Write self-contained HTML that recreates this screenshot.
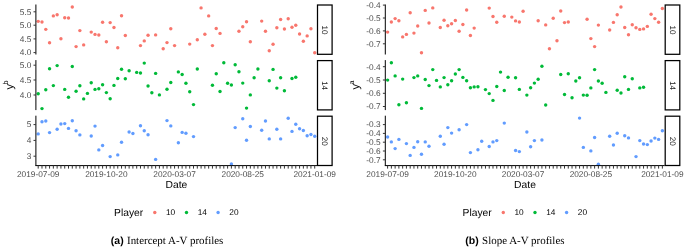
<!DOCTYPE html>
<html><head><meta charset="utf-8"><style>
html,body{margin:0;padding:0;background:#fff;}
body{width:685px;height:247px;overflow:hidden;}
svg{display:block;will-change:transform;}
text{font-family:"Liberation Sans",sans-serif;text-rendering:geometricPrecision;}
.at{font-size:8.3px;fill:#4D4D4D;}
.st{font-size:8px;fill:#1A1A1A;}
.tt{font-size:10.3px;fill:#000;}
.lt{font-size:8.3px;fill:#000;}
.sup{font-size:7.2px;}
.yt{font-size:11px;fill:#000;}
.cap{font-family:"Liberation Serif",serif;font-size:10.95px;fill:#000;}
.capb{font-family:"Liberation Sans",sans-serif;font-weight:bold;font-size:10.5px;fill:#000;}
</style></head><body>
<svg width="685" height="247" viewBox="0 0 685 247">
<circle cx="38.20" cy="21.35" r="1.7" fill="#F8766D"/>
<circle cx="41.99" cy="22.00" r="1.7" fill="#F8766D"/>
<circle cx="45.78" cy="29.35" r="1.7" fill="#F8766D"/>
<circle cx="49.56" cy="42.80" r="1.7" fill="#F8766D"/>
<circle cx="53.35" cy="15.90" r="1.7" fill="#F8766D"/>
<circle cx="57.14" cy="14.80" r="1.7" fill="#F8766D"/>
<circle cx="60.93" cy="38.80" r="1.7" fill="#F8766D"/>
<circle cx="64.72" cy="17.80" r="1.7" fill="#F8766D"/>
<circle cx="68.50" cy="18.00" r="1.7" fill="#F8766D"/>
<circle cx="72.29" cy="7.00" r="1.7" fill="#F8766D"/>
<circle cx="76.08" cy="46.60" r="1.7" fill="#F8766D"/>
<circle cx="79.87" cy="30.60" r="1.7" fill="#F8766D"/>
<circle cx="83.66" cy="44.90" r="1.7" fill="#F8766D"/>
<circle cx="91.23" cy="32.10" r="1.7" fill="#F8766D"/>
<circle cx="95.02" cy="34.40" r="1.7" fill="#F8766D"/>
<circle cx="98.81" cy="35.00" r="1.7" fill="#F8766D"/>
<circle cx="102.60" cy="22.20" r="1.7" fill="#F8766D"/>
<circle cx="106.38" cy="41.80" r="1.7" fill="#F8766D"/>
<circle cx="110.17" cy="22.60" r="1.7" fill="#F8766D"/>
<circle cx="113.96" cy="27.50" r="1.7" fill="#F8766D"/>
<circle cx="117.75" cy="47.70" r="1.7" fill="#F8766D"/>
<circle cx="121.54" cy="15.70" r="1.7" fill="#F8766D"/>
<circle cx="125.32" cy="35.50" r="1.7" fill="#F8766D"/>
<circle cx="140.48" cy="45.60" r="1.7" fill="#F8766D"/>
<circle cx="144.26" cy="40.90" r="1.7" fill="#F8766D"/>
<circle cx="148.05" cy="35.30" r="1.7" fill="#F8766D"/>
<circle cx="155.63" cy="34.90" r="1.7" fill="#F8766D"/>
<circle cx="163.20" cy="48.70" r="1.7" fill="#F8766D"/>
<circle cx="166.99" cy="42.60" r="1.7" fill="#F8766D"/>
<circle cx="170.78" cy="28.70" r="1.7" fill="#F8766D"/>
<circle cx="174.57" cy="45.60" r="1.7" fill="#F8766D"/>
<circle cx="189.72" cy="44.10" r="1.7" fill="#F8766D"/>
<circle cx="197.30" cy="39.70" r="1.7" fill="#F8766D"/>
<circle cx="201.08" cy="7.90" r="1.7" fill="#F8766D"/>
<circle cx="204.87" cy="34.20" r="1.7" fill="#F8766D"/>
<circle cx="208.66" cy="15.90" r="1.7" fill="#F8766D"/>
<circle cx="212.45" cy="45.60" r="1.7" fill="#F8766D"/>
<circle cx="216.24" cy="28.50" r="1.7" fill="#F8766D"/>
<circle cx="220.02" cy="33.40" r="1.7" fill="#F8766D"/>
<circle cx="238.96" cy="31.20" r="1.7" fill="#F8766D"/>
<circle cx="242.75" cy="26.80" r="1.7" fill="#F8766D"/>
<circle cx="246.54" cy="21.80" r="1.7" fill="#F8766D"/>
<circle cx="250.33" cy="41.80" r="1.7" fill="#F8766D"/>
<circle cx="261.69" cy="21.10" r="1.7" fill="#F8766D"/>
<circle cx="265.48" cy="31.20" r="1.7" fill="#F8766D"/>
<circle cx="269.27" cy="50.80" r="1.7" fill="#F8766D"/>
<circle cx="273.06" cy="44.30" r="1.7" fill="#F8766D"/>
<circle cx="276.84" cy="27.70" r="1.7" fill="#F8766D"/>
<circle cx="280.63" cy="19.50" r="1.7" fill="#F8766D"/>
<circle cx="284.42" cy="29.00" r="1.7" fill="#F8766D"/>
<circle cx="288.21" cy="18.80" r="1.7" fill="#F8766D"/>
<circle cx="292.00" cy="27.30" r="1.7" fill="#F8766D"/>
<circle cx="295.78" cy="25.20" r="1.7" fill="#F8766D"/>
<circle cx="299.57" cy="34.00" r="1.7" fill="#F8766D"/>
<circle cx="303.36" cy="41.30" r="1.7" fill="#F8766D"/>
<circle cx="307.15" cy="35.90" r="1.7" fill="#F8766D"/>
<circle cx="310.94" cy="28.70" r="1.7" fill="#F8766D"/>
<circle cx="314.72" cy="52.70" r="1.7" fill="#F8766D"/>
<circle cx="38.20" cy="93.80" r="1.7" fill="#00BA38"/>
<circle cx="41.99" cy="108.60" r="1.7" fill="#00BA38"/>
<circle cx="45.78" cy="89.80" r="1.7" fill="#00BA38"/>
<circle cx="49.56" cy="68.80" r="1.7" fill="#00BA38"/>
<circle cx="53.35" cy="85.60" r="1.7" fill="#00BA38"/>
<circle cx="57.14" cy="65.60" r="1.7" fill="#00BA38"/>
<circle cx="64.72" cy="89.40" r="1.7" fill="#00BA38"/>
<circle cx="68.50" cy="97.20" r="1.7" fill="#00BA38"/>
<circle cx="72.29" cy="66.50" r="1.7" fill="#00BA38"/>
<circle cx="76.08" cy="91.30" r="1.7" fill="#00BA38"/>
<circle cx="79.87" cy="85.80" r="1.7" fill="#00BA38"/>
<circle cx="83.66" cy="98.90" r="1.7" fill="#00BA38"/>
<circle cx="87.44" cy="93.40" r="1.7" fill="#00BA38"/>
<circle cx="91.23" cy="82.70" r="1.7" fill="#00BA38"/>
<circle cx="95.02" cy="89.40" r="1.7" fill="#00BA38"/>
<circle cx="98.81" cy="88.80" r="1.7" fill="#00BA38"/>
<circle cx="102.60" cy="84.80" r="1.7" fill="#00BA38"/>
<circle cx="106.38" cy="92.60" r="1.7" fill="#00BA38"/>
<circle cx="110.17" cy="98.70" r="1.7" fill="#00BA38"/>
<circle cx="113.96" cy="85.40" r="1.7" fill="#00BA38"/>
<circle cx="117.75" cy="78.50" r="1.7" fill="#00BA38"/>
<circle cx="121.54" cy="69.20" r="1.7" fill="#00BA38"/>
<circle cx="125.32" cy="78.70" r="1.7" fill="#00BA38"/>
<circle cx="129.11" cy="70.70" r="1.7" fill="#00BA38"/>
<circle cx="136.69" cy="72.40" r="1.7" fill="#00BA38"/>
<circle cx="140.48" cy="73.00" r="1.7" fill="#00BA38"/>
<circle cx="144.26" cy="63.10" r="1.7" fill="#00BA38"/>
<circle cx="148.05" cy="86.00" r="1.7" fill="#00BA38"/>
<circle cx="151.84" cy="92.80" r="1.7" fill="#00BA38"/>
<circle cx="155.63" cy="73.40" r="1.7" fill="#00BA38"/>
<circle cx="159.42" cy="94.90" r="1.7" fill="#00BA38"/>
<circle cx="166.99" cy="89.20" r="1.7" fill="#00BA38"/>
<circle cx="170.78" cy="82.50" r="1.7" fill="#00BA38"/>
<circle cx="178.36" cy="71.90" r="1.7" fill="#00BA38"/>
<circle cx="182.14" cy="74.50" r="1.7" fill="#00BA38"/>
<circle cx="185.93" cy="83.30" r="1.7" fill="#00BA38"/>
<circle cx="189.72" cy="91.70" r="1.7" fill="#00BA38"/>
<circle cx="193.51" cy="104.60" r="1.7" fill="#00BA38"/>
<circle cx="197.30" cy="69.00" r="1.7" fill="#00BA38"/>
<circle cx="212.45" cy="85.20" r="1.7" fill="#00BA38"/>
<circle cx="216.24" cy="73.80" r="1.7" fill="#00BA38"/>
<circle cx="220.02" cy="91.50" r="1.7" fill="#00BA38"/>
<circle cx="223.81" cy="62.70" r="1.7" fill="#00BA38"/>
<circle cx="227.60" cy="83.30" r="1.7" fill="#00BA38"/>
<circle cx="231.39" cy="85.00" r="1.7" fill="#00BA38"/>
<circle cx="235.18" cy="64.80" r="1.7" fill="#00BA38"/>
<circle cx="238.96" cy="71.70" r="1.7" fill="#00BA38"/>
<circle cx="242.75" cy="83.10" r="1.7" fill="#00BA38"/>
<circle cx="246.54" cy="108.10" r="1.7" fill="#00BA38"/>
<circle cx="250.33" cy="94.90" r="1.7" fill="#00BA38"/>
<circle cx="254.12" cy="77.80" r="1.7" fill="#00BA38"/>
<circle cx="257.90" cy="69.00" r="1.7" fill="#00BA38"/>
<circle cx="269.27" cy="80.80" r="1.7" fill="#00BA38"/>
<circle cx="273.06" cy="69.40" r="1.7" fill="#00BA38"/>
<circle cx="276.84" cy="88.10" r="1.7" fill="#00BA38"/>
<circle cx="280.63" cy="77.80" r="1.7" fill="#00BA38"/>
<circle cx="284.42" cy="90.70" r="1.7" fill="#00BA38"/>
<circle cx="292.00" cy="78.50" r="1.7" fill="#00BA38"/>
<circle cx="295.78" cy="77.20" r="1.7" fill="#00BA38"/>
<circle cx="38.20" cy="133.90" r="1.7" fill="#619CFF"/>
<circle cx="41.99" cy="121.70" r="1.7" fill="#619CFF"/>
<circle cx="45.78" cy="121.00" r="1.7" fill="#619CFF"/>
<circle cx="49.56" cy="132.60" r="1.7" fill="#619CFF"/>
<circle cx="57.14" cy="129.20" r="1.7" fill="#619CFF"/>
<circle cx="60.93" cy="124.00" r="1.7" fill="#619CFF"/>
<circle cx="64.72" cy="123.60" r="1.7" fill="#619CFF"/>
<circle cx="68.50" cy="128.40" r="1.7" fill="#619CFF"/>
<circle cx="72.29" cy="120.80" r="1.7" fill="#619CFF"/>
<circle cx="76.08" cy="130.70" r="1.7" fill="#619CFF"/>
<circle cx="79.87" cy="134.90" r="1.7" fill="#619CFF"/>
<circle cx="91.23" cy="136.00" r="1.7" fill="#619CFF"/>
<circle cx="95.02" cy="126.10" r="1.7" fill="#619CFF"/>
<circle cx="98.81" cy="149.90" r="1.7" fill="#619CFF"/>
<circle cx="102.60" cy="145.50" r="1.7" fill="#619CFF"/>
<circle cx="110.17" cy="156.60" r="1.7" fill="#619CFF"/>
<circle cx="117.75" cy="154.90" r="1.7" fill="#619CFF"/>
<circle cx="121.54" cy="142.30" r="1.7" fill="#619CFF"/>
<circle cx="129.11" cy="132.00" r="1.7" fill="#619CFF"/>
<circle cx="132.90" cy="133.50" r="1.7" fill="#619CFF"/>
<circle cx="140.48" cy="125.70" r="1.7" fill="#619CFF"/>
<circle cx="144.26" cy="130.70" r="1.7" fill="#619CFF"/>
<circle cx="148.05" cy="134.70" r="1.7" fill="#619CFF"/>
<circle cx="155.63" cy="159.40" r="1.7" fill="#619CFF"/>
<circle cx="166.99" cy="120.60" r="1.7" fill="#619CFF"/>
<circle cx="170.78" cy="125.90" r="1.7" fill="#619CFF"/>
<circle cx="178.36" cy="142.70" r="1.7" fill="#619CFF"/>
<circle cx="182.14" cy="132.40" r="1.7" fill="#619CFF"/>
<circle cx="185.93" cy="133.20" r="1.7" fill="#619CFF"/>
<circle cx="193.51" cy="136.60" r="1.7" fill="#619CFF"/>
<circle cx="231.39" cy="164.00" r="1.7" fill="#619CFF"/>
<circle cx="235.18" cy="127.60" r="1.7" fill="#619CFF"/>
<circle cx="242.75" cy="118.70" r="1.7" fill="#619CFF"/>
<circle cx="246.54" cy="140.20" r="1.7" fill="#619CFF"/>
<circle cx="250.33" cy="126.50" r="1.7" fill="#619CFF"/>
<circle cx="261.69" cy="130.30" r="1.7" fill="#619CFF"/>
<circle cx="265.48" cy="121.00" r="1.7" fill="#619CFF"/>
<circle cx="269.27" cy="138.90" r="1.7" fill="#619CFF"/>
<circle cx="276.84" cy="129.20" r="1.7" fill="#619CFF"/>
<circle cx="280.63" cy="138.90" r="1.7" fill="#619CFF"/>
<circle cx="288.21" cy="118.30" r="1.7" fill="#619CFF"/>
<circle cx="292.00" cy="131.40" r="1.7" fill="#619CFF"/>
<circle cx="295.78" cy="124.20" r="1.7" fill="#619CFF"/>
<circle cx="299.57" cy="128.80" r="1.7" fill="#619CFF"/>
<circle cx="303.36" cy="130.50" r="1.7" fill="#619CFF"/>
<circle cx="307.15" cy="135.80" r="1.7" fill="#619CFF"/>
<circle cx="310.94" cy="134.50" r="1.7" fill="#619CFF"/>
<circle cx="314.72" cy="136.20" r="1.7" fill="#619CFF"/>
<line x1="35.90" y1="4.50" x2="35.90" y2="54.50" stroke="#000000" stroke-width="1"/>
<line x1="33.50" y1="11.80" x2="35.90" y2="11.80" stroke="#333" stroke-width="1"/>
<text x="31.40" y="14.60" class="at" text-anchor="end">5.5</text>
<line x1="33.50" y1="25.20" x2="35.90" y2="25.20" stroke="#333" stroke-width="1"/>
<text x="31.40" y="28.00" class="at" text-anchor="end">5.0</text>
<line x1="33.50" y1="38.90" x2="35.90" y2="38.90" stroke="#333" stroke-width="1"/>
<text x="31.40" y="41.70" class="at" text-anchor="end">4.5</text>
<line x1="33.50" y1="52.60" x2="35.90" y2="52.60" stroke="#333" stroke-width="1"/>
<text x="31.40" y="55.40" class="at" text-anchor="end">4.0</text>
<rect x="317.50" y="5.00" width="14.60" height="49.30" fill="#fff" stroke="#000" stroke-width="1.25"/>
<text x="324.90" y="30.00" class="st" text-anchor="middle" transform="rotate(90 324.90 30.00)" dy="2.95">10</text>
<line x1="35.90" y1="60.10" x2="35.90" y2="110.10" stroke="#000000" stroke-width="1"/>
<line x1="33.50" y1="65.20" x2="35.90" y2="65.20" stroke="#333" stroke-width="1"/>
<text x="31.40" y="68.00" class="at" text-anchor="end">5.0</text>
<line x1="33.50" y1="80.00" x2="35.90" y2="80.00" stroke="#333" stroke-width="1"/>
<text x="31.40" y="82.80" class="at" text-anchor="end">4.5</text>
<line x1="33.50" y1="95.00" x2="35.90" y2="95.00" stroke="#333" stroke-width="1"/>
<text x="31.40" y="97.80" class="at" text-anchor="end">4.0</text>
<rect x="317.50" y="60.60" width="14.60" height="49.30" fill="#fff" stroke="#000" stroke-width="1.25"/>
<text x="324.90" y="85.60" class="st" text-anchor="middle" transform="rotate(90 324.90 85.60)" dy="2.95">14</text>
<line x1="35.90" y1="115.70" x2="35.90" y2="165.70" stroke="#000000" stroke-width="1"/>
<line x1="33.50" y1="124.60" x2="35.90" y2="124.60" stroke="#333" stroke-width="1"/>
<text x="31.40" y="127.40" class="at" text-anchor="end">5</text>
<line x1="33.50" y1="140.40" x2="35.90" y2="140.40" stroke="#333" stroke-width="1"/>
<text x="31.40" y="143.20" class="at" text-anchor="end">4</text>
<line x1="33.50" y1="156.20" x2="35.90" y2="156.20" stroke="#333" stroke-width="1"/>
<text x="31.40" y="159.00" class="at" text-anchor="end">3</text>
<rect x="317.50" y="116.20" width="14.60" height="49.30" fill="#fff" stroke="#000" stroke-width="1.25"/>
<text x="324.90" y="141.20" class="st" text-anchor="middle" transform="rotate(90 324.90 141.20)" dy="2.95">20</text>
<line x1="35.40" y1="165.60" x2="317.00" y2="165.60" stroke="#000000" stroke-width="1"/>
<line x1="38.20" y1="165.60" x2="38.20" y2="168.60" stroke="#333" stroke-width="1"/>
<line x1="41.99" y1="165.60" x2="41.99" y2="168.60" stroke="#333" stroke-width="1"/>
<line x1="45.78" y1="165.60" x2="45.78" y2="168.60" stroke="#333" stroke-width="1"/>
<line x1="49.56" y1="165.60" x2="49.56" y2="168.60" stroke="#333" stroke-width="1"/>
<line x1="53.35" y1="165.60" x2="53.35" y2="168.60" stroke="#333" stroke-width="1"/>
<line x1="57.14" y1="165.60" x2="57.14" y2="168.60" stroke="#333" stroke-width="1"/>
<line x1="60.93" y1="165.60" x2="60.93" y2="168.60" stroke="#333" stroke-width="1"/>
<line x1="64.72" y1="165.60" x2="64.72" y2="168.60" stroke="#333" stroke-width="1"/>
<line x1="68.50" y1="165.60" x2="68.50" y2="168.60" stroke="#333" stroke-width="1"/>
<line x1="72.29" y1="165.60" x2="72.29" y2="168.60" stroke="#333" stroke-width="1"/>
<line x1="76.08" y1="165.60" x2="76.08" y2="168.60" stroke="#333" stroke-width="1"/>
<line x1="79.87" y1="165.60" x2="79.87" y2="168.60" stroke="#333" stroke-width="1"/>
<line x1="83.66" y1="165.60" x2="83.66" y2="168.60" stroke="#333" stroke-width="1"/>
<line x1="87.44" y1="165.60" x2="87.44" y2="168.60" stroke="#333" stroke-width="1"/>
<line x1="91.23" y1="165.60" x2="91.23" y2="168.60" stroke="#333" stroke-width="1"/>
<line x1="95.02" y1="165.60" x2="95.02" y2="168.60" stroke="#333" stroke-width="1"/>
<line x1="98.81" y1="165.60" x2="98.81" y2="168.60" stroke="#333" stroke-width="1"/>
<line x1="102.60" y1="165.60" x2="102.60" y2="168.60" stroke="#333" stroke-width="1"/>
<line x1="106.38" y1="165.60" x2="106.38" y2="168.60" stroke="#333" stroke-width="1"/>
<line x1="110.17" y1="165.60" x2="110.17" y2="168.60" stroke="#333" stroke-width="1"/>
<line x1="113.96" y1="165.60" x2="113.96" y2="168.60" stroke="#333" stroke-width="1"/>
<line x1="117.75" y1="165.60" x2="117.75" y2="168.60" stroke="#333" stroke-width="1"/>
<line x1="121.54" y1="165.60" x2="121.54" y2="168.60" stroke="#333" stroke-width="1"/>
<line x1="125.32" y1="165.60" x2="125.32" y2="168.60" stroke="#333" stroke-width="1"/>
<line x1="129.11" y1="165.60" x2="129.11" y2="168.60" stroke="#333" stroke-width="1"/>
<line x1="132.90" y1="165.60" x2="132.90" y2="168.60" stroke="#333" stroke-width="1"/>
<line x1="136.69" y1="165.60" x2="136.69" y2="168.60" stroke="#333" stroke-width="1"/>
<line x1="140.48" y1="165.60" x2="140.48" y2="168.60" stroke="#333" stroke-width="1"/>
<line x1="144.26" y1="165.60" x2="144.26" y2="168.60" stroke="#333" stroke-width="1"/>
<line x1="148.05" y1="165.60" x2="148.05" y2="168.60" stroke="#333" stroke-width="1"/>
<line x1="151.84" y1="165.60" x2="151.84" y2="168.60" stroke="#333" stroke-width="1"/>
<line x1="155.63" y1="165.60" x2="155.63" y2="168.60" stroke="#333" stroke-width="1"/>
<line x1="159.42" y1="165.60" x2="159.42" y2="168.60" stroke="#333" stroke-width="1"/>
<line x1="163.20" y1="165.60" x2="163.20" y2="168.60" stroke="#333" stroke-width="1"/>
<line x1="166.99" y1="165.60" x2="166.99" y2="168.60" stroke="#333" stroke-width="1"/>
<line x1="170.78" y1="165.60" x2="170.78" y2="168.60" stroke="#333" stroke-width="1"/>
<line x1="174.57" y1="165.60" x2="174.57" y2="168.60" stroke="#333" stroke-width="1"/>
<line x1="178.36" y1="165.60" x2="178.36" y2="168.60" stroke="#333" stroke-width="1"/>
<line x1="182.14" y1="165.60" x2="182.14" y2="168.60" stroke="#333" stroke-width="1"/>
<line x1="185.93" y1="165.60" x2="185.93" y2="168.60" stroke="#333" stroke-width="1"/>
<line x1="189.72" y1="165.60" x2="189.72" y2="168.60" stroke="#333" stroke-width="1"/>
<line x1="193.51" y1="165.60" x2="193.51" y2="168.60" stroke="#333" stroke-width="1"/>
<line x1="197.30" y1="165.60" x2="197.30" y2="168.60" stroke="#333" stroke-width="1"/>
<line x1="201.08" y1="165.60" x2="201.08" y2="168.60" stroke="#333" stroke-width="1"/>
<line x1="204.87" y1="165.60" x2="204.87" y2="168.60" stroke="#333" stroke-width="1"/>
<line x1="208.66" y1="165.60" x2="208.66" y2="168.60" stroke="#333" stroke-width="1"/>
<line x1="212.45" y1="165.60" x2="212.45" y2="168.60" stroke="#333" stroke-width="1"/>
<line x1="216.24" y1="165.60" x2="216.24" y2="168.60" stroke="#333" stroke-width="1"/>
<line x1="220.02" y1="165.60" x2="220.02" y2="168.60" stroke="#333" stroke-width="1"/>
<line x1="223.81" y1="165.60" x2="223.81" y2="168.60" stroke="#333" stroke-width="1"/>
<line x1="227.60" y1="165.60" x2="227.60" y2="168.60" stroke="#333" stroke-width="1"/>
<line x1="231.39" y1="165.60" x2="231.39" y2="168.60" stroke="#333" stroke-width="1"/>
<line x1="235.18" y1="165.60" x2="235.18" y2="168.60" stroke="#333" stroke-width="1"/>
<line x1="238.96" y1="165.60" x2="238.96" y2="168.60" stroke="#333" stroke-width="1"/>
<line x1="242.75" y1="165.60" x2="242.75" y2="168.60" stroke="#333" stroke-width="1"/>
<line x1="246.54" y1="165.60" x2="246.54" y2="168.60" stroke="#333" stroke-width="1"/>
<line x1="250.33" y1="165.60" x2="250.33" y2="168.60" stroke="#333" stroke-width="1"/>
<line x1="254.12" y1="165.60" x2="254.12" y2="168.60" stroke="#333" stroke-width="1"/>
<line x1="257.90" y1="165.60" x2="257.90" y2="168.60" stroke="#333" stroke-width="1"/>
<line x1="261.69" y1="165.60" x2="261.69" y2="168.60" stroke="#333" stroke-width="1"/>
<line x1="265.48" y1="165.60" x2="265.48" y2="168.60" stroke="#333" stroke-width="1"/>
<line x1="269.27" y1="165.60" x2="269.27" y2="168.60" stroke="#333" stroke-width="1"/>
<line x1="273.06" y1="165.60" x2="273.06" y2="168.60" stroke="#333" stroke-width="1"/>
<line x1="276.84" y1="165.60" x2="276.84" y2="168.60" stroke="#333" stroke-width="1"/>
<line x1="280.63" y1="165.60" x2="280.63" y2="168.60" stroke="#333" stroke-width="1"/>
<line x1="284.42" y1="165.60" x2="284.42" y2="168.60" stroke="#333" stroke-width="1"/>
<line x1="288.21" y1="165.60" x2="288.21" y2="168.60" stroke="#333" stroke-width="1"/>
<line x1="292.00" y1="165.60" x2="292.00" y2="168.60" stroke="#333" stroke-width="1"/>
<line x1="295.78" y1="165.60" x2="295.78" y2="168.60" stroke="#333" stroke-width="1"/>
<line x1="299.57" y1="165.60" x2="299.57" y2="168.60" stroke="#333" stroke-width="1"/>
<line x1="303.36" y1="165.60" x2="303.36" y2="168.60" stroke="#333" stroke-width="1"/>
<line x1="307.15" y1="165.60" x2="307.15" y2="168.60" stroke="#333" stroke-width="1"/>
<line x1="310.94" y1="165.60" x2="310.94" y2="168.60" stroke="#333" stroke-width="1"/>
<line x1="314.72" y1="165.60" x2="314.72" y2="168.60" stroke="#333" stroke-width="1"/>
<text x="38.20" y="176.6" class="at" text-anchor="middle">2019-07-09</text>
<text x="106.38" y="176.6" class="at" text-anchor="middle">2019-10-20</text>
<text x="174.57" y="176.6" class="at" text-anchor="middle">2020-03-07</text>
<text x="242.75" y="176.6" class="at" text-anchor="middle">2020-08-25</text>
<text x="314.72" y="176.6" class="at" text-anchor="middle">2021-01-09</text>
<text x="176.45" y="188.1" class="tt" text-anchor="middle">Date</text>
<text transform="translate(12.60,85.00) rotate(-90)" class="yt" text-anchor="middle">y<tspan class="sup" dx="-0.5" dy="-5">b</tspan></text>
<circle cx="387.60" cy="32.10" r="1.7" fill="#F8766D"/>
<circle cx="391.36" cy="22.00" r="1.7" fill="#F8766D"/>
<circle cx="395.13" cy="18.60" r="1.7" fill="#F8766D"/>
<circle cx="398.89" cy="20.70" r="1.7" fill="#F8766D"/>
<circle cx="402.66" cy="36.90" r="1.7" fill="#F8766D"/>
<circle cx="406.42" cy="34.40" r="1.7" fill="#F8766D"/>
<circle cx="410.18" cy="12.70" r="1.7" fill="#F8766D"/>
<circle cx="413.95" cy="33.10" r="1.7" fill="#F8766D"/>
<circle cx="417.71" cy="26.00" r="1.7" fill="#F8766D"/>
<circle cx="421.48" cy="52.70" r="1.7" fill="#F8766D"/>
<circle cx="425.24" cy="10.40" r="1.7" fill="#F8766D"/>
<circle cx="429.00" cy="23.00" r="1.7" fill="#F8766D"/>
<circle cx="432.77" cy="7.90" r="1.7" fill="#F8766D"/>
<circle cx="440.30" cy="27.50" r="1.7" fill="#F8766D"/>
<circle cx="444.06" cy="20.30" r="1.7" fill="#F8766D"/>
<circle cx="447.82" cy="25.80" r="1.7" fill="#F8766D"/>
<circle cx="451.59" cy="23.70" r="1.7" fill="#F8766D"/>
<circle cx="455.35" cy="20.50" r="1.7" fill="#F8766D"/>
<circle cx="459.12" cy="31.20" r="1.7" fill="#F8766D"/>
<circle cx="462.88" cy="24.50" r="1.7" fill="#F8766D"/>
<circle cx="466.64" cy="10.00" r="1.7" fill="#F8766D"/>
<circle cx="470.41" cy="35.50" r="1.7" fill="#F8766D"/>
<circle cx="474.17" cy="28.10" r="1.7" fill="#F8766D"/>
<circle cx="489.23" cy="8.10" r="1.7" fill="#F8766D"/>
<circle cx="492.99" cy="16.50" r="1.7" fill="#F8766D"/>
<circle cx="496.76" cy="22.20" r="1.7" fill="#F8766D"/>
<circle cx="504.28" cy="16.30" r="1.7" fill="#F8766D"/>
<circle cx="511.81" cy="17.10" r="1.7" fill="#F8766D"/>
<circle cx="515.58" cy="20.90" r="1.7" fill="#F8766D"/>
<circle cx="519.34" cy="22.00" r="1.7" fill="#F8766D"/>
<circle cx="523.10" cy="11.20" r="1.7" fill="#F8766D"/>
<circle cx="538.16" cy="20.70" r="1.7" fill="#F8766D"/>
<circle cx="545.69" cy="24.90" r="1.7" fill="#F8766D"/>
<circle cx="549.45" cy="48.70" r="1.7" fill="#F8766D"/>
<circle cx="553.22" cy="18.20" r="1.7" fill="#F8766D"/>
<circle cx="556.98" cy="40.70" r="1.7" fill="#F8766D"/>
<circle cx="560.74" cy="11.00" r="1.7" fill="#F8766D"/>
<circle cx="564.51" cy="22.60" r="1.7" fill="#F8766D"/>
<circle cx="568.27" cy="22.00" r="1.7" fill="#F8766D"/>
<circle cx="587.09" cy="19.20" r="1.7" fill="#F8766D"/>
<circle cx="590.86" cy="38.60" r="1.7" fill="#F8766D"/>
<circle cx="594.62" cy="46.60" r="1.7" fill="#F8766D"/>
<circle cx="598.38" cy="25.10" r="1.7" fill="#F8766D"/>
<circle cx="609.68" cy="30.00" r="1.7" fill="#F8766D"/>
<circle cx="613.44" cy="22.40" r="1.7" fill="#F8766D"/>
<circle cx="617.20" cy="14.80" r="1.7" fill="#F8766D"/>
<circle cx="620.97" cy="7.00" r="1.7" fill="#F8766D"/>
<circle cx="624.73" cy="27.50" r="1.7" fill="#F8766D"/>
<circle cx="628.50" cy="34.80" r="1.7" fill="#F8766D"/>
<circle cx="632.26" cy="24.70" r="1.7" fill="#F8766D"/>
<circle cx="636.02" cy="27.70" r="1.7" fill="#F8766D"/>
<circle cx="639.79" cy="29.40" r="1.7" fill="#F8766D"/>
<circle cx="643.55" cy="28.90" r="1.7" fill="#F8766D"/>
<circle cx="647.32" cy="26.40" r="1.7" fill="#F8766D"/>
<circle cx="651.08" cy="14.20" r="1.7" fill="#F8766D"/>
<circle cx="654.84" cy="18.60" r="1.7" fill="#F8766D"/>
<circle cx="658.61" cy="22.20" r="1.7" fill="#F8766D"/>
<circle cx="662.37" cy="8.50" r="1.7" fill="#F8766D"/>
<circle cx="387.60" cy="80.10" r="1.7" fill="#00BA38"/>
<circle cx="391.36" cy="62.70" r="1.7" fill="#00BA38"/>
<circle cx="395.13" cy="75.90" r="1.7" fill="#00BA38"/>
<circle cx="398.89" cy="104.80" r="1.7" fill="#00BA38"/>
<circle cx="402.66" cy="79.10" r="1.7" fill="#00BA38"/>
<circle cx="406.42" cy="102.70" r="1.7" fill="#00BA38"/>
<circle cx="413.95" cy="77.60" r="1.7" fill="#00BA38"/>
<circle cx="417.71" cy="75.90" r="1.7" fill="#00BA38"/>
<circle cx="421.48" cy="108.40" r="1.7" fill="#00BA38"/>
<circle cx="425.24" cy="79.50" r="1.7" fill="#00BA38"/>
<circle cx="429.00" cy="85.60" r="1.7" fill="#00BA38"/>
<circle cx="432.77" cy="69.60" r="1.7" fill="#00BA38"/>
<circle cx="436.53" cy="80.40" r="1.7" fill="#00BA38"/>
<circle cx="440.30" cy="86.90" r="1.7" fill="#00BA38"/>
<circle cx="444.06" cy="77.60" r="1.7" fill="#00BA38"/>
<circle cx="447.82" cy="84.80" r="1.7" fill="#00BA38"/>
<circle cx="451.59" cy="80.80" r="1.7" fill="#00BA38"/>
<circle cx="455.35" cy="74.00" r="1.7" fill="#00BA38"/>
<circle cx="459.12" cy="69.60" r="1.7" fill="#00BA38"/>
<circle cx="462.88" cy="77.40" r="1.7" fill="#00BA38"/>
<circle cx="466.64" cy="80.80" r="1.7" fill="#00BA38"/>
<circle cx="470.41" cy="87.70" r="1.7" fill="#00BA38"/>
<circle cx="474.17" cy="86.90" r="1.7" fill="#00BA38"/>
<circle cx="477.94" cy="86.70" r="1.7" fill="#00BA38"/>
<circle cx="485.46" cy="89.60" r="1.7" fill="#00BA38"/>
<circle cx="489.23" cy="93.60" r="1.7" fill="#00BA38"/>
<circle cx="492.99" cy="100.40" r="1.7" fill="#00BA38"/>
<circle cx="496.76" cy="86.50" r="1.7" fill="#00BA38"/>
<circle cx="500.52" cy="72.10" r="1.7" fill="#00BA38"/>
<circle cx="504.28" cy="90.50" r="1.7" fill="#00BA38"/>
<circle cx="508.05" cy="77.20" r="1.7" fill="#00BA38"/>
<circle cx="515.58" cy="77.80" r="1.7" fill="#00BA38"/>
<circle cx="519.34" cy="89.40" r="1.7" fill="#00BA38"/>
<circle cx="526.87" cy="95.10" r="1.7" fill="#00BA38"/>
<circle cx="530.63" cy="87.70" r="1.7" fill="#00BA38"/>
<circle cx="534.40" cy="83.10" r="1.7" fill="#00BA38"/>
<circle cx="538.16" cy="79.30" r="1.7" fill="#00BA38"/>
<circle cx="541.92" cy="66.20" r="1.7" fill="#00BA38"/>
<circle cx="545.69" cy="105.00" r="1.7" fill="#00BA38"/>
<circle cx="560.74" cy="74.50" r="1.7" fill="#00BA38"/>
<circle cx="564.51" cy="94.50" r="1.7" fill="#00BA38"/>
<circle cx="568.27" cy="73.80" r="1.7" fill="#00BA38"/>
<circle cx="572.04" cy="97.80" r="1.7" fill="#00BA38"/>
<circle cx="575.80" cy="81.00" r="1.7" fill="#00BA38"/>
<circle cx="579.56" cy="77.80" r="1.7" fill="#00BA38"/>
<circle cx="583.33" cy="95.10" r="1.7" fill="#00BA38"/>
<circle cx="587.09" cy="95.30" r="1.7" fill="#00BA38"/>
<circle cx="590.86" cy="87.90" r="1.7" fill="#00BA38"/>
<circle cx="594.62" cy="69.60" r="1.7" fill="#00BA38"/>
<circle cx="598.38" cy="81.00" r="1.7" fill="#00BA38"/>
<circle cx="602.15" cy="83.30" r="1.7" fill="#00BA38"/>
<circle cx="605.91" cy="92.40" r="1.7" fill="#00BA38"/>
<circle cx="617.20" cy="90.30" r="1.7" fill="#00BA38"/>
<circle cx="620.97" cy="93.00" r="1.7" fill="#00BA38"/>
<circle cx="624.73" cy="76.80" r="1.7" fill="#00BA38"/>
<circle cx="628.50" cy="89.40" r="1.7" fill="#00BA38"/>
<circle cx="632.26" cy="78.70" r="1.7" fill="#00BA38"/>
<circle cx="639.79" cy="87.90" r="1.7" fill="#00BA38"/>
<circle cx="643.55" cy="87.30" r="1.7" fill="#00BA38"/>
<circle cx="387.60" cy="137.00" r="1.7" fill="#619CFF"/>
<circle cx="391.36" cy="141.90" r="1.7" fill="#619CFF"/>
<circle cx="395.13" cy="148.60" r="1.7" fill="#619CFF"/>
<circle cx="398.89" cy="139.40" r="1.7" fill="#619CFF"/>
<circle cx="406.42" cy="143.60" r="1.7" fill="#619CFF"/>
<circle cx="410.18" cy="155.40" r="1.7" fill="#619CFF"/>
<circle cx="413.95" cy="147.40" r="1.7" fill="#619CFF"/>
<circle cx="417.71" cy="141.70" r="1.7" fill="#619CFF"/>
<circle cx="421.48" cy="154.30" r="1.7" fill="#619CFF"/>
<circle cx="425.24" cy="141.90" r="1.7" fill="#619CFF"/>
<circle cx="429.00" cy="146.30" r="1.7" fill="#619CFF"/>
<circle cx="440.30" cy="136.20" r="1.7" fill="#619CFF"/>
<circle cx="444.06" cy="144.20" r="1.7" fill="#619CFF"/>
<circle cx="447.82" cy="127.60" r="1.7" fill="#619CFF"/>
<circle cx="451.59" cy="133.10" r="1.7" fill="#619CFF"/>
<circle cx="459.12" cy="129.70" r="1.7" fill="#619CFF"/>
<circle cx="466.64" cy="124.60" r="1.7" fill="#619CFF"/>
<circle cx="470.41" cy="152.60" r="1.7" fill="#619CFF"/>
<circle cx="477.94" cy="149.70" r="1.7" fill="#619CFF"/>
<circle cx="481.70" cy="141.20" r="1.7" fill="#619CFF"/>
<circle cx="489.23" cy="146.50" r="1.7" fill="#619CFF"/>
<circle cx="492.99" cy="141.90" r="1.7" fill="#619CFF"/>
<circle cx="496.76" cy="140.60" r="1.7" fill="#619CFF"/>
<circle cx="504.28" cy="123.10" r="1.7" fill="#619CFF"/>
<circle cx="515.58" cy="150.50" r="1.7" fill="#619CFF"/>
<circle cx="519.34" cy="151.60" r="1.7" fill="#619CFF"/>
<circle cx="526.87" cy="132.00" r="1.7" fill="#619CFF"/>
<circle cx="530.63" cy="146.70" r="1.7" fill="#619CFF"/>
<circle cx="534.40" cy="140.60" r="1.7" fill="#619CFF"/>
<circle cx="541.92" cy="140.00" r="1.7" fill="#619CFF"/>
<circle cx="579.56" cy="118.10" r="1.7" fill="#619CFF"/>
<circle cx="583.33" cy="147.40" r="1.7" fill="#619CFF"/>
<circle cx="590.86" cy="150.90" r="1.7" fill="#619CFF"/>
<circle cx="594.62" cy="137.50" r="1.7" fill="#619CFF"/>
<circle cx="598.38" cy="164.20" r="1.7" fill="#619CFF"/>
<circle cx="609.68" cy="136.20" r="1.7" fill="#619CFF"/>
<circle cx="613.44" cy="145.00" r="1.7" fill="#619CFF"/>
<circle cx="617.20" cy="133.20" r="1.7" fill="#619CFF"/>
<circle cx="624.73" cy="135.80" r="1.7" fill="#619CFF"/>
<circle cx="628.50" cy="137.90" r="1.7" fill="#619CFF"/>
<circle cx="636.02" cy="156.60" r="1.7" fill="#619CFF"/>
<circle cx="639.79" cy="140.60" r="1.7" fill="#619CFF"/>
<circle cx="643.55" cy="144.00" r="1.7" fill="#619CFF"/>
<circle cx="647.32" cy="144.60" r="1.7" fill="#619CFF"/>
<circle cx="651.08" cy="141.00" r="1.7" fill="#619CFF"/>
<circle cx="654.84" cy="138.10" r="1.7" fill="#619CFF"/>
<circle cx="658.61" cy="139.40" r="1.7" fill="#619CFF"/>
<circle cx="662.37" cy="130.70" r="1.7" fill="#619CFF"/>
<line x1="385.30" y1="4.50" x2="385.30" y2="54.50" stroke="#000000" stroke-width="1"/>
<line x1="382.90" y1="5.10" x2="385.30" y2="5.10" stroke="#333" stroke-width="1"/>
<text x="380.60" y="7.90" class="at" text-anchor="end">-0.4</text>
<line x1="382.90" y1="18.00" x2="385.30" y2="18.00" stroke="#333" stroke-width="1"/>
<text x="380.60" y="20.80" class="at" text-anchor="end">-0.5</text>
<line x1="382.90" y1="30.90" x2="385.30" y2="30.90" stroke="#333" stroke-width="1"/>
<text x="380.60" y="33.70" class="at" text-anchor="end">-0.6</text>
<line x1="382.90" y1="43.80" x2="385.30" y2="43.80" stroke="#333" stroke-width="1"/>
<text x="380.60" y="46.60" class="at" text-anchor="end">-0.7</text>
<rect x="665.20" y="5.00" width="14.60" height="49.30" fill="#fff" stroke="#000" stroke-width="1.25"/>
<text x="672.60" y="30.00" class="st" text-anchor="middle" transform="rotate(90 672.60 30.00)" dy="2.95">10</text>
<line x1="385.30" y1="60.10" x2="385.30" y2="110.10" stroke="#000000" stroke-width="1"/>
<line x1="382.90" y1="66.70" x2="385.30" y2="66.70" stroke="#333" stroke-width="1"/>
<text x="380.60" y="69.50" class="at" text-anchor="end">-0.4</text>
<line x1="382.90" y1="80.00" x2="385.30" y2="80.00" stroke="#333" stroke-width="1"/>
<text x="380.60" y="82.80" class="at" text-anchor="end">-0.5</text>
<line x1="382.90" y1="93.30" x2="385.30" y2="93.30" stroke="#333" stroke-width="1"/>
<text x="380.60" y="96.10" class="at" text-anchor="end">-0.6</text>
<line x1="382.90" y1="106.50" x2="385.30" y2="106.50" stroke="#333" stroke-width="1"/>
<text x="380.60" y="109.30" class="at" text-anchor="end">-0.7</text>
<rect x="665.20" y="60.60" width="14.60" height="49.30" fill="#fff" stroke="#000" stroke-width="1.25"/>
<text x="672.60" y="85.60" class="st" text-anchor="middle" transform="rotate(90 672.60 85.60)" dy="2.95">14</text>
<line x1="385.30" y1="115.70" x2="385.30" y2="165.70" stroke="#000000" stroke-width="1"/>
<line x1="382.90" y1="124.60" x2="385.30" y2="124.60" stroke="#333" stroke-width="1"/>
<text x="380.60" y="127.40" class="at" text-anchor="end">-0.3</text>
<line x1="382.90" y1="133.40" x2="385.30" y2="133.40" stroke="#333" stroke-width="1"/>
<text x="380.60" y="136.20" class="at" text-anchor="end">-0.4</text>
<line x1="382.90" y1="142.20" x2="385.30" y2="142.20" stroke="#333" stroke-width="1"/>
<text x="380.60" y="145.00" class="at" text-anchor="end">-0.5</text>
<line x1="382.90" y1="151.00" x2="385.30" y2="151.00" stroke="#333" stroke-width="1"/>
<text x="380.60" y="153.80" class="at" text-anchor="end">-0.6</text>
<line x1="382.90" y1="159.80" x2="385.30" y2="159.80" stroke="#333" stroke-width="1"/>
<text x="380.60" y="162.60" class="at" text-anchor="end">-0.7</text>
<rect x="665.20" y="116.20" width="14.60" height="49.30" fill="#fff" stroke="#000" stroke-width="1.25"/>
<text x="672.60" y="141.20" class="st" text-anchor="middle" transform="rotate(90 672.60 141.20)" dy="2.95">20</text>
<line x1="384.80" y1="165.60" x2="664.70" y2="165.60" stroke="#000000" stroke-width="1"/>
<line x1="387.60" y1="165.60" x2="387.60" y2="168.60" stroke="#333" stroke-width="1"/>
<line x1="391.36" y1="165.60" x2="391.36" y2="168.60" stroke="#333" stroke-width="1"/>
<line x1="395.13" y1="165.60" x2="395.13" y2="168.60" stroke="#333" stroke-width="1"/>
<line x1="398.89" y1="165.60" x2="398.89" y2="168.60" stroke="#333" stroke-width="1"/>
<line x1="402.66" y1="165.60" x2="402.66" y2="168.60" stroke="#333" stroke-width="1"/>
<line x1="406.42" y1="165.60" x2="406.42" y2="168.60" stroke="#333" stroke-width="1"/>
<line x1="410.18" y1="165.60" x2="410.18" y2="168.60" stroke="#333" stroke-width="1"/>
<line x1="413.95" y1="165.60" x2="413.95" y2="168.60" stroke="#333" stroke-width="1"/>
<line x1="417.71" y1="165.60" x2="417.71" y2="168.60" stroke="#333" stroke-width="1"/>
<line x1="421.48" y1="165.60" x2="421.48" y2="168.60" stroke="#333" stroke-width="1"/>
<line x1="425.24" y1="165.60" x2="425.24" y2="168.60" stroke="#333" stroke-width="1"/>
<line x1="429.00" y1="165.60" x2="429.00" y2="168.60" stroke="#333" stroke-width="1"/>
<line x1="432.77" y1="165.60" x2="432.77" y2="168.60" stroke="#333" stroke-width="1"/>
<line x1="436.53" y1="165.60" x2="436.53" y2="168.60" stroke="#333" stroke-width="1"/>
<line x1="440.30" y1="165.60" x2="440.30" y2="168.60" stroke="#333" stroke-width="1"/>
<line x1="444.06" y1="165.60" x2="444.06" y2="168.60" stroke="#333" stroke-width="1"/>
<line x1="447.82" y1="165.60" x2="447.82" y2="168.60" stroke="#333" stroke-width="1"/>
<line x1="451.59" y1="165.60" x2="451.59" y2="168.60" stroke="#333" stroke-width="1"/>
<line x1="455.35" y1="165.60" x2="455.35" y2="168.60" stroke="#333" stroke-width="1"/>
<line x1="459.12" y1="165.60" x2="459.12" y2="168.60" stroke="#333" stroke-width="1"/>
<line x1="462.88" y1="165.60" x2="462.88" y2="168.60" stroke="#333" stroke-width="1"/>
<line x1="466.64" y1="165.60" x2="466.64" y2="168.60" stroke="#333" stroke-width="1"/>
<line x1="470.41" y1="165.60" x2="470.41" y2="168.60" stroke="#333" stroke-width="1"/>
<line x1="474.17" y1="165.60" x2="474.17" y2="168.60" stroke="#333" stroke-width="1"/>
<line x1="477.94" y1="165.60" x2="477.94" y2="168.60" stroke="#333" stroke-width="1"/>
<line x1="481.70" y1="165.60" x2="481.70" y2="168.60" stroke="#333" stroke-width="1"/>
<line x1="485.46" y1="165.60" x2="485.46" y2="168.60" stroke="#333" stroke-width="1"/>
<line x1="489.23" y1="165.60" x2="489.23" y2="168.60" stroke="#333" stroke-width="1"/>
<line x1="492.99" y1="165.60" x2="492.99" y2="168.60" stroke="#333" stroke-width="1"/>
<line x1="496.76" y1="165.60" x2="496.76" y2="168.60" stroke="#333" stroke-width="1"/>
<line x1="500.52" y1="165.60" x2="500.52" y2="168.60" stroke="#333" stroke-width="1"/>
<line x1="504.28" y1="165.60" x2="504.28" y2="168.60" stroke="#333" stroke-width="1"/>
<line x1="508.05" y1="165.60" x2="508.05" y2="168.60" stroke="#333" stroke-width="1"/>
<line x1="511.81" y1="165.60" x2="511.81" y2="168.60" stroke="#333" stroke-width="1"/>
<line x1="515.58" y1="165.60" x2="515.58" y2="168.60" stroke="#333" stroke-width="1"/>
<line x1="519.34" y1="165.60" x2="519.34" y2="168.60" stroke="#333" stroke-width="1"/>
<line x1="523.10" y1="165.60" x2="523.10" y2="168.60" stroke="#333" stroke-width="1"/>
<line x1="526.87" y1="165.60" x2="526.87" y2="168.60" stroke="#333" stroke-width="1"/>
<line x1="530.63" y1="165.60" x2="530.63" y2="168.60" stroke="#333" stroke-width="1"/>
<line x1="534.40" y1="165.60" x2="534.40" y2="168.60" stroke="#333" stroke-width="1"/>
<line x1="538.16" y1="165.60" x2="538.16" y2="168.60" stroke="#333" stroke-width="1"/>
<line x1="541.92" y1="165.60" x2="541.92" y2="168.60" stroke="#333" stroke-width="1"/>
<line x1="545.69" y1="165.60" x2="545.69" y2="168.60" stroke="#333" stroke-width="1"/>
<line x1="549.45" y1="165.60" x2="549.45" y2="168.60" stroke="#333" stroke-width="1"/>
<line x1="553.22" y1="165.60" x2="553.22" y2="168.60" stroke="#333" stroke-width="1"/>
<line x1="556.98" y1="165.60" x2="556.98" y2="168.60" stroke="#333" stroke-width="1"/>
<line x1="560.74" y1="165.60" x2="560.74" y2="168.60" stroke="#333" stroke-width="1"/>
<line x1="564.51" y1="165.60" x2="564.51" y2="168.60" stroke="#333" stroke-width="1"/>
<line x1="568.27" y1="165.60" x2="568.27" y2="168.60" stroke="#333" stroke-width="1"/>
<line x1="572.04" y1="165.60" x2="572.04" y2="168.60" stroke="#333" stroke-width="1"/>
<line x1="575.80" y1="165.60" x2="575.80" y2="168.60" stroke="#333" stroke-width="1"/>
<line x1="579.56" y1="165.60" x2="579.56" y2="168.60" stroke="#333" stroke-width="1"/>
<line x1="583.33" y1="165.60" x2="583.33" y2="168.60" stroke="#333" stroke-width="1"/>
<line x1="587.09" y1="165.60" x2="587.09" y2="168.60" stroke="#333" stroke-width="1"/>
<line x1="590.86" y1="165.60" x2="590.86" y2="168.60" stroke="#333" stroke-width="1"/>
<line x1="594.62" y1="165.60" x2="594.62" y2="168.60" stroke="#333" stroke-width="1"/>
<line x1="598.38" y1="165.60" x2="598.38" y2="168.60" stroke="#333" stroke-width="1"/>
<line x1="602.15" y1="165.60" x2="602.15" y2="168.60" stroke="#333" stroke-width="1"/>
<line x1="605.91" y1="165.60" x2="605.91" y2="168.60" stroke="#333" stroke-width="1"/>
<line x1="609.68" y1="165.60" x2="609.68" y2="168.60" stroke="#333" stroke-width="1"/>
<line x1="613.44" y1="165.60" x2="613.44" y2="168.60" stroke="#333" stroke-width="1"/>
<line x1="617.20" y1="165.60" x2="617.20" y2="168.60" stroke="#333" stroke-width="1"/>
<line x1="620.97" y1="165.60" x2="620.97" y2="168.60" stroke="#333" stroke-width="1"/>
<line x1="624.73" y1="165.60" x2="624.73" y2="168.60" stroke="#333" stroke-width="1"/>
<line x1="628.50" y1="165.60" x2="628.50" y2="168.60" stroke="#333" stroke-width="1"/>
<line x1="632.26" y1="165.60" x2="632.26" y2="168.60" stroke="#333" stroke-width="1"/>
<line x1="636.02" y1="165.60" x2="636.02" y2="168.60" stroke="#333" stroke-width="1"/>
<line x1="639.79" y1="165.60" x2="639.79" y2="168.60" stroke="#333" stroke-width="1"/>
<line x1="643.55" y1="165.60" x2="643.55" y2="168.60" stroke="#333" stroke-width="1"/>
<line x1="647.32" y1="165.60" x2="647.32" y2="168.60" stroke="#333" stroke-width="1"/>
<line x1="651.08" y1="165.60" x2="651.08" y2="168.60" stroke="#333" stroke-width="1"/>
<line x1="654.84" y1="165.60" x2="654.84" y2="168.60" stroke="#333" stroke-width="1"/>
<line x1="658.61" y1="165.60" x2="658.61" y2="168.60" stroke="#333" stroke-width="1"/>
<line x1="662.37" y1="165.60" x2="662.37" y2="168.60" stroke="#333" stroke-width="1"/>
<text x="387.60" y="176.6" class="at" text-anchor="middle">2019-07-09</text>
<text x="455.35" y="176.6" class="at" text-anchor="middle">2019-10-20</text>
<text x="523.10" y="176.6" class="at" text-anchor="middle">2020-03-07</text>
<text x="590.86" y="176.6" class="at" text-anchor="middle">2020-08-25</text>
<text x="662.37" y="176.6" class="at" text-anchor="middle">2021-01-09</text>
<text x="525.00" y="188.1" class="tt" text-anchor="middle">Date</text>
<text transform="translate(359.00,85.00) rotate(-90)" class="yt" text-anchor="middle">y<tspan class="sup" dx="-0.5" dy="-5">a</tspan></text>
<text x="114.10" y="215.8" class="tt">Player</text>
<circle cx="154.80" cy="212.5" r="1.7" fill="#F8766D"/>
<text x="166.00" y="215.4" class="lt">10</text>
<circle cx="186.50" cy="212.5" r="1.7" fill="#00BA38"/>
<text x="197.70" y="215.4" class="lt">14</text>
<circle cx="218.10" cy="212.5" r="1.7" fill="#619CFF"/>
<text x="229.30" y="215.4" class="lt">20</text>
<text x="462.60" y="215.8" class="tt">Player</text>
<circle cx="503.30" cy="212.5" r="1.7" fill="#F8766D"/>
<text x="514.50" y="215.4" class="lt">10</text>
<circle cx="535.00" cy="212.5" r="1.7" fill="#00BA38"/>
<text x="546.20" y="215.4" class="lt">14</text>
<circle cx="566.60" cy="212.5" r="1.7" fill="#619CFF"/>
<text x="577.80" y="215.4" class="lt">20</text>
<text x="110.8" y="243.8" class="capb">(a)</text><text x="127.0" y="243.8" class="cap">Intercept A-V profiles</text>
<text x="465.3" y="243.8" class="capb">(b)</text><text x="482.1" y="243.8" class="cap">Slope A-V profiles</text>
</svg>
</body></html>
